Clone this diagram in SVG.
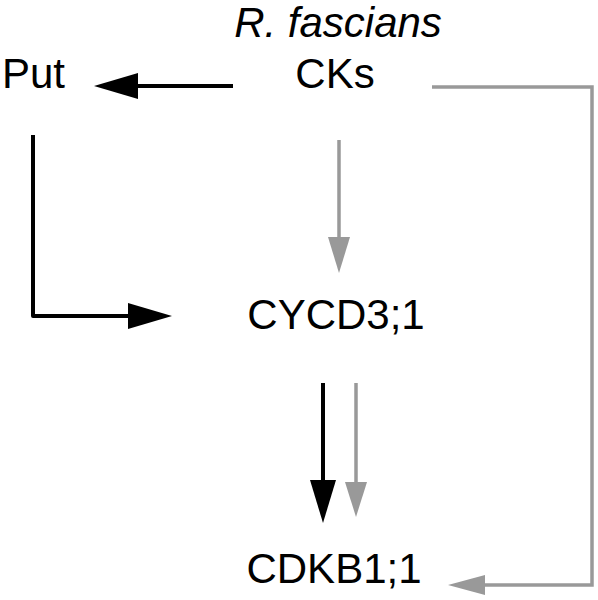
<svg xmlns="http://www.w3.org/2000/svg" width="598" height="600" viewBox="0 0 598 600">
<style>
text{font-family:"Liberation Sans",Arial,sans-serif;font-size:42px;fill:#000}
.blk{stroke:#000;stroke-width:4;fill:none}
.gry{stroke:#999;stroke-width:3.5;fill:none}
.hb{fill:#000}
.hg{fill:#999}
</style>
<rect width="598" height="600" fill="#fff"/>
<g id="connectors">
<line class="blk" x1="233" y1="86" x2="130" y2="86"/>
<polygon class="hb" points="94,86 138,73 138,99"/>
<polyline class="blk" points="33,135 33,316 135,316" stroke-linejoin="round"/>
<polygon class="hb" points="172,316 128,303 128,329"/>
<line class="gry" x1="339" y1="140" x2="339" y2="245"/>
<polygon class="hg" points="339,273 328,237 350,237"/>
<polyline class="gry" points="432,87 592,87 592,585 480,585"/>
<polygon class="hg" points="448,585 485,575 485,595"/>
<line class="blk" x1="323" y1="383" x2="323" y2="490"/>
<polygon class="hb" points="323,523 310,480 336,480"/>
<line class="gry" x1="356" y1="383" x2="356" y2="490"/>
<polygon class="hg" points="356,517 345,482 367,482"/>
</g>
<g id="ck">
<text x="338" y="37" text-anchor="middle" font-style="italic">R. fascians</text>
<text x="335" y="88" text-anchor="middle">CKs</text>
</g>
<g id="put"><text x="2" y="88">Put</text></g>
<g id="cycd"><text x="336" y="329" text-anchor="middle">CYCD3;1</text></g>
<g id="cdkb"><text x="334" y="583" text-anchor="middle">CDKB1;1</text></g>
</svg>
